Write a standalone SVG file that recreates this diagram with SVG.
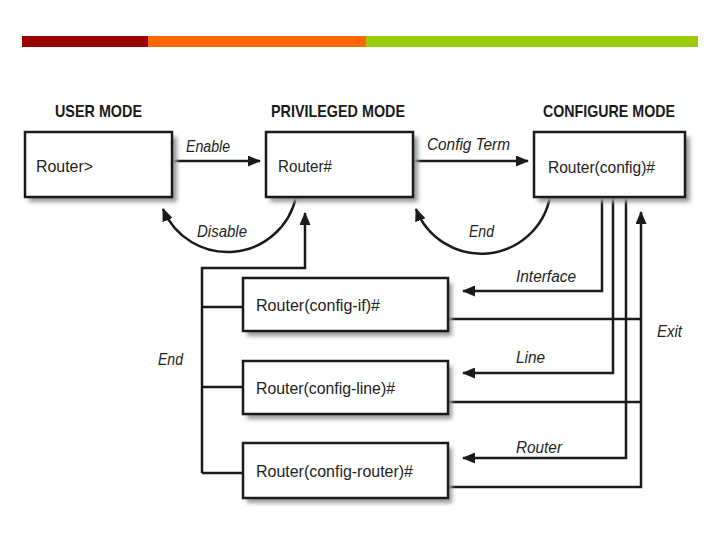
<svg xmlns="http://www.w3.org/2000/svg" width="720" height="540" viewBox="0 0 720 540">
<defs>
<style>
.box{fill:#fff;stroke:#1a1a1a;stroke-width:2.5}
.sh{fill:#9a9a9a;filter:url(#blur)}
.hd{font-family:"Liberation Sans",Arial,sans-serif;font-weight:bold;font-size:17px;fill:#1a1a1a}
.tx{font-family:"Liberation Sans",Arial,sans-serif;font-size:16px;fill:#222}
.lb{font-family:"Liberation Sans",Arial,sans-serif;font-style:italic;font-size:16px;fill:#222}
.ln{fill:none;stroke:#1a1a1a;stroke-width:2.5}
.ar{fill:none;stroke:#1a1a1a;stroke-width:2.5;marker-end:url(#ah)}
</style>
<filter id="blur" x="-10%" y="-20%" width="120%" height="140%"><feGaussianBlur stdDeviation="2"/></filter>
<marker id="ah" markerUnits="userSpaceOnUse" markerWidth="13" markerHeight="11" refX="12" refY="5.5" orient="auto"><path d="M0,0 L13,5.5 L0,11 z" fill="#1a1a1a"/></marker>
</defs>
<rect width="720" height="540" fill="#fff"/>
<g id="topbar">
<rect x="22" y="36" width="126" height="11" fill="#990000"/>
<rect x="148" y="36" width="218" height="11" fill="#ff6600"/>
<rect x="366" y="36" width="332" height="11" fill="#99cc00"/>
</g>
<g id="headers">
<text class="hd" x="55" y="117" textLength="87" lengthAdjust="spacingAndGlyphs">USER MODE</text>
<text class="hd" x="271" y="117" textLength="134" lengthAdjust="spacingAndGlyphs">PRIVILEGED MODE</text>
<text class="hd" x="543" y="117" textLength="132" lengthAdjust="spacingAndGlyphs">CONFIGURE MODE</text>
</g>
<g id="connectors">
<path class="ar" d="M172,161 L260,161"/>
<path class="ar" d="M413,161 L528,161"/>
<path class="ar" d="M296,197 A70,70 0 0 1 163,209"/>
<path class="ar" d="M550,197 A70,70 0 0 1 416,209"/>
<path class="ln" d="M202,307 L243,307 M202,387 L243,387 M202,473 L243,473"/>
<path class="ar" d="M202,473 L202,268 L305,268 L305,213"/>
<path class="ar" d="M602,197 L602,291 L463,291"/>
<path class="ar" d="M613,197 L613,373 L463,373"/>
<path class="ar" d="M626,197 L626,458 L463,458"/>
<path class="ln" d="M448,319 L641,319 M448,402 L641,402"/>
<path class="ar" d="M448,487 L641,487 L641,212"/>
<text class="lb" x="186" y="152" textLength="44" lengthAdjust="spacingAndGlyphs">Enable</text>
<text class="lb" x="197" y="237" textLength="50" lengthAdjust="spacingAndGlyphs">Disable</text>
<text class="lb" x="427" y="150" textLength="83" lengthAdjust="spacingAndGlyphs">Config Term</text>
<text class="lb" x="469" y="237" textLength="25" lengthAdjust="spacingAndGlyphs">End</text>
<text class="lb" x="516" y="282" textLength="60" lengthAdjust="spacingAndGlyphs">Interface</text>
<text class="lb" x="516" y="363" textLength="29" lengthAdjust="spacingAndGlyphs">Line</text>
<text class="lb" x="516" y="453" textLength="46" lengthAdjust="spacingAndGlyphs">Router</text>
<text class="lb" x="657" y="337" textLength="25" lengthAdjust="spacingAndGlyphs">Exit</text>
<text class="lb" x="158" y="365" textLength="25" lengthAdjust="spacingAndGlyphs">End</text>
</g>
<g id="user">
<rect class="sh" x="29" y="137" width="148" height="65"/>
<rect class="box" x="25" y="132" width="147" height="65"/>
<text class="tx" x="36" y="172" textLength="57" lengthAdjust="spacingAndGlyphs">Router&gt;</text>
</g>
<g id="privileged">
<rect class="sh" x="270" y="137" width="148" height="65"/>
<rect class="box" x="266" y="132" width="147" height="65"/>
<text class="tx" x="278" y="172" textLength="54" lengthAdjust="spacingAndGlyphs">Router#</text>
</g>
<g id="configure">
<rect class="sh" x="538" y="137" width="152" height="65"/>
<rect class="box" x="534" y="132" width="151" height="65"/>
<text class="tx" x="548" y="173" textLength="107" lengthAdjust="spacingAndGlyphs">Router(config)#</text>
</g>
<g id="config-if">
<rect class="sh" x="247" y="283" width="205" height="53"/>
<rect class="box" x="243" y="278" width="205" height="53"/>
<text class="tx" x="256" y="311" textLength="124" lengthAdjust="spacingAndGlyphs">Router(config-if)#</text>
</g>
<g id="config-line">
<rect class="sh" x="247" y="366" width="205" height="53"/>
<rect class="box" x="243" y="361" width="205" height="53"/>
<text class="tx" x="256" y="394" textLength="139" lengthAdjust="spacingAndGlyphs">Router(config-line)#</text>
</g>
<g id="config-router">
<rect class="sh" x="247" y="448" width="205" height="55"/>
<rect class="box" x="243" y="443" width="205" height="55"/>
<text class="tx" x="256" y="477" textLength="157" lengthAdjust="spacingAndGlyphs">Router(config-router)#</text>
</g>
</svg>
